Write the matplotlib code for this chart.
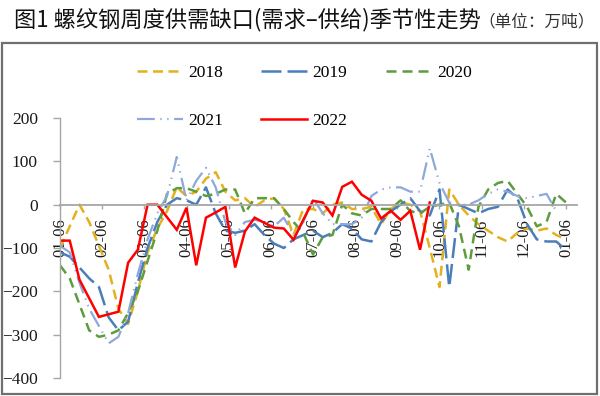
import matplotlib
matplotlib.use("Agg")
import matplotlib.pyplot as plt
from matplotlib.patches import Rectangle

# ---------------- data ----------------
tick_labels = ["01-06", "02-06", "03-06", "04-06", "05-06", "06-06", "07-06",
               "08-06", "09-06", "10-06", "11-06", "12-06", "01-06"]
years = ["2018", "2019", "2020", "2021", "2022"]

y2018 = [-100, -50, 0, -40, -95, -150, -240, -275, -200, -110, -55, -15, 40,
         20, 30, 60, 75, 30, 10, 15, -5, 10, 15, -10, -70, -10, -10, -20, 0,
         5, -10, -10, -5, -45, -10, 5, 0, -15, -100, -190, 35, 0, -25, -45,
         -60, -75, -85, -65, -55, -60, -55, -70, -80]
y2019 = [-110, -120, -145, -170, -190, -260, -290, -270, -180, -100, -40, 0,
         15, 10, 0, 40, -20, -60, -65, -60, -45, -70, -90, -100, -80, -70,
         -60, -75, -65, -45, -55, -80, -85, -40, -15, 0, 15, -15, -25, 35,
         -190, 0, -10, -20, -10, -5, 35, 15, -45, -80, -85, -85, -105]
y2020 = [-140, -170, -230, -290, -305, -300, -290, -250, -200, -130, -60, 25,
         38, 38, 30, 20, 25, 35, 35, -20, 15, 15, 15, -10, -40, -65, -115,
         -75, -70, 0, -20, -25, -10, -10, -10, 10, -15, -20, -5, 0, 5, -50,
         -150, -5, 35, 50, 55, 25, -5, -50, -40, 25, 5]
y2021 = [-95, -110, -180, -240, -280, -320, -305, -250, -160, -80, -20, 20,
         110, 10, 55, 85, 40, -40, -70, -40, -35, -40, -50, -30, -70, -40,
         15, -20, -45, -45, -45, -30, 20, 35, 40, 40, 30, 30, 130, 50, 5, 0,
         0, 10, 25, 35, 30, 20, 15, 20, 25, -15]
y2022 = [-83, -83, -173, -216, -259, -253, -247, -134, -104, 0, 0, -29, -58,
         -7, -140, -30, -18, -5, -145, -62, -30, -42, -53, -55, -81, -35, 9,
         5, -25, 41, 53, 23, 9, -32, -14, -35, -14, -104, 5]

series = [y2018, y2019, y2020, y2021, y2022]
colors = ["#E3B01E", "#4A7EBB", "#5E9C3C", "#8EA8DB", "#FF0000"]
dashes = [(4, 2.2), (8, 2.4), (4, 2.4), (8, 2.5, 0.6, 2.5, 0.6, 2.5), None]
widths = [1.8, 1.8, 1.8, 1.6, 1.8]

serif = "Liberation Serif"
plt.rcParams["font.family"] = [serif, "DejaVu Sans"]

# ---------------- figure ----------------
W, H = 600, 396
fig = plt.figure(figsize=(W / 100, H / 100), dpi=100)

def fx(px):
    return px / W

def fy(py):
    return 1 - py / H

ax = fig.add_axes([fx(60), fy(378), fx(577) - fx(60), fy(118) - fy(378)])

n_weeks = 52
tick_pos = [k * n_weeks / 12 for k in range(13)]

handles = []
for name, ys, c, d, lw in zip(years, series, colors, dashes, widths):
    xs = list(range(len(ys)))
    line, = ax.plot(xs, ys, color=c, lw=lw, solid_joinstyle="miter",
                    dash_capstyle="butt", label=name)
    if d is not None:
        line.set_dashes(d)
    handles.append(line)

ax.set_xlim(0, (577 - 60) / ((566 - 60) / n_weeks))
ax.set_ylim(-400, 200)
ax.set_yticks([200, 100, 0, -100, -200, -300, -400])
ax.set_xticks(tick_pos)
ax.set_xticklabels(tick_labels)

for s in ["top", "right"]:
    ax.spines[s].set_visible(False)
ax.spines["left"].set_color("#A6A6A6")
ax.spines["left"].set_linewidth(1.0)
ax.spines["bottom"].set_position(("data", 0))
ax.spines["bottom"].set_color("#A6A6A6")
ax.spines["bottom"].set_linewidth(1.3)
ax.tick_params(axis="y", direction="out", length=5, width=1, color="#A6A6A6",
               pad=11, labelcolor="#1a1a1a", labelsize=12.5)
ax.tick_params(axis="x", direction="out", length=3, width=1, color="#A6A6A6",
               pad=7, labelcolor="#1a1a1a", labelsize=12, labelrotation=90)
ax.patch.set_visible(False)

# legend (row-major order via reordering)
order = [0, 3, 1, 4, 2]
leg = fig.legend([handles[i] for i in order], [years[i] for i in order],
                 ncol=3, loc="upper left",
                 bbox_to_anchor=(fx(137), fy(65)), frameon=False,
                 prop={"family": serif, "size": 12.5},
                 handlelength=2.65, handletextpad=0.3, columnspacing=2.2,
                 labelspacing=1.85, borderpad=0, borderaxespad=0)

# outer box
fig.patches.append(Rectangle((fx(2), fy(394)), fx(597) - fx(2), fy(43) - fy(394),
                             transform=fig.transFigure, fill=False,
                             edgecolor="#6f6f6f", lw=1.6))

# title
cjk = ["Noto Sans CJK SC", "DejaVu Sans"]
fig.text(fx(14), fy(26), "图1 螺纹钢周度供需缺口(需求–供给)季节性走势",
         family=cjk, fontsize=16, va="baseline", ha="left", color="#111111")
fig.text(fx(478), fy(26), "（单位：万吨）", family=cjk, fontsize=12,
         va="baseline", ha="left", color="#333333")

fig.savefig("out.png", dpi=100)
